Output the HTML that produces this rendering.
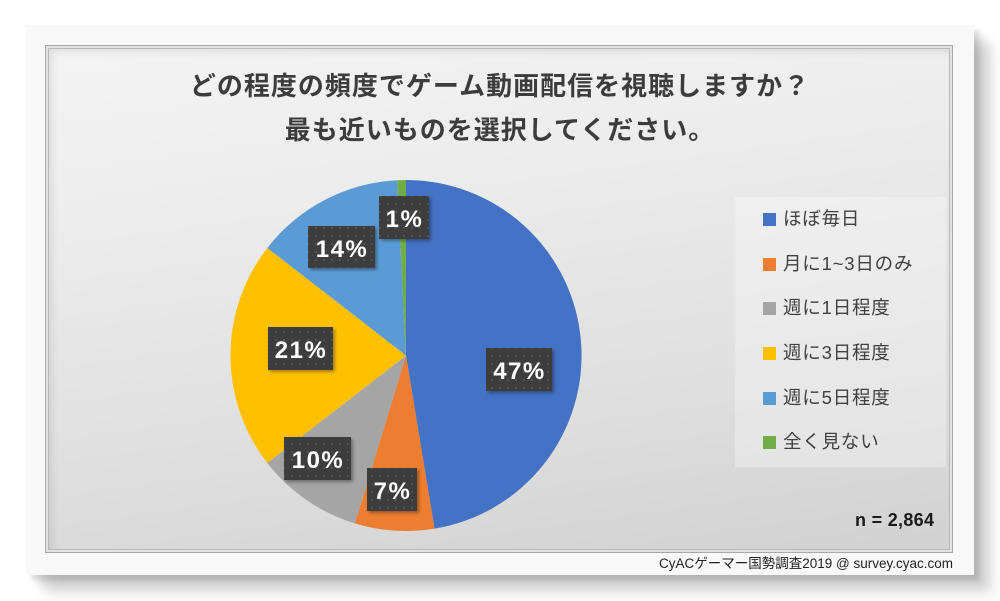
<!DOCTYPE html>
<html>
<head>
<meta charset="utf-8">
<style>
  html,body{margin:0;padding:0;background:#ffffff;}
  body{width:1000px;height:601px;position:relative;overflow:hidden;font-family:"Liberation Sans","Noto Sans CJK JP",sans-serif;}
  .outer{position:absolute;left:26px;top:25px;width:948px;height:550px;background:#f8f8f8;
    box-shadow:5px 5px 5px rgba(0,0,0,0.12),12px 12px 9px rgba(0,0,0,0.11),20px 20px 12px rgba(0,0,0,0.10);}
  .inner{position:absolute;left:45px;top:45px;width:906px;height:506px;border:1px solid #a9a9a9;
    background:linear-gradient(172deg,#f4f4f4 0%,#ececec 30%,#dedede 70%,#d1d1d1 100%);
    box-shadow:inset 0 0 0 2px #e2e2e2,inset 0 0 0 3px #b9b9b9,inset 5px 5px 9px rgba(0,0,0,0.10);}
  .title{position:absolute;left:0;width:1000px;text-align:center;font-weight:700;font-size:26px;letter-spacing:1px;
    color:#3c3c3c;line-height:30px;font-family:"Liberation Sans","Noto Sans CJK JP",sans-serif;white-space:nowrap;}
  .legend{position:absolute;left:735px;top:197px;width:211px;height:270px;background:rgba(255,255,255,0.30);}
  .li{position:absolute;left:763px;height:24px;line-height:24px;font-size:18.5px;color:#404040;letter-spacing:0.8px;white-space:nowrap;}
  .li i{position:absolute;left:0;top:5px;width:13px;height:13px;display:block;}
  .li span{position:absolute;left:20px;top:-1px;}
  .n{position:absolute;left:855px;top:510px;font-size:18px;font-weight:700;color:#1a1a1a;letter-spacing:0.3px;white-space:nowrap;}
  .foot{position:absolute;right:47px;top:555px;font-size:13.5px;color:#222;white-space:nowrap;line-height:18px;}
  svg{position:absolute;left:0;top:0;}
</style>
</head>
<body>
<div class="outer"></div>
<div class="inner"></div>

<div class="title" style="top:71px;">どの程度の頻度でゲーム動画配信を視聴しますか？</div>
<div class="title" style="top:115px;">最も近いものを選択してください。</div>

<svg width="1000" height="601" viewBox="0 0 1000 601">
  <defs>
    <pattern id="dots" width="8" height="8" patternUnits="userSpaceOnUse">
      <rect width="8" height="8" fill="#3d3d3d"/>
      <circle cx="4" cy="4" r="1" fill="#585858"/>
    </pattern>
    <filter id="sh" x="-20%" y="-20%" width="150%" height="150%">
      <feDropShadow dx="2" dy="2" stdDeviation="1.5" flood-color="#000" flood-opacity="0.35"/>
    </filter>
  </defs>
  <!-- pie: center (406,355.5) r 175.5 -->
  <path d="M406,355.5 L406,180 A175.5,175.5 0 0 1 434.54,528.67 Z" fill="#4472C4"/>
  <path d="M406,355.5 L434.54,528.67 A175.5,175.5 0 0 1 354.93,523.4 Z" fill="#ED7D31"/>
  <path d="M406,355.5 L354.93,523.4 A175.5,175.5 0 0 1 267.32,463.06 Z" fill="#A5A5A5"/>
  <path d="M406,355.5 L267.32,463.06 A175.5,175.5 0 0 1 267.32,247.94 Z" fill="#FFC000"/>
  <path d="M406,355.5 L267.32,247.94 A175.5,175.5 0 0 1 397.19,180.23 Z" fill="#5B9BD5"/>
  <path d="M406,355.5 L397.19,180.23 A175.5,175.5 0 0 1 406,180 Z" fill="#70AD47"/>

  <g font-family="Liberation Sans, sans-serif" font-weight="700" font-size="24" fill="#ffffff" text-anchor="middle" letter-spacing="1.5">
    <rect x="379" y="196" width="50" height="43" fill="url(#dots)" filter="url(#sh)"/>
    <text x="404.5" y="227">1%</text>
    <rect x="308" y="226" width="67" height="42" fill="url(#dots)" filter="url(#sh)"/>
    <text x="342" y="257">14%</text>
    <rect x="268" y="327" width="65" height="43" fill="url(#dots)" filter="url(#sh)"/>
    <text x="301" y="358">21%</text>
    <rect x="486" y="348" width="66" height="43" fill="url(#dots)" filter="url(#sh)"/>
    <text x="519.5" y="379">47%</text>
    <rect x="284" y="437" width="67" height="43" fill="url(#dots)" filter="url(#sh)"/>
    <text x="318" y="468">10%</text>
    <rect x="367" y="468" width="50" height="43" fill="url(#dots)" filter="url(#sh)"/>
    <text x="392.5" y="499">7%</text>
  </g>
</svg>

<div class="legend"></div>
<div class="li" style="top:208px;"><i style="background:#4472C4"></i><span>ほぼ毎日</span></div>
<div class="li" style="top:253px;"><i style="background:#ED7D31"></i><span>月に1~3日のみ</span></div>
<div class="li" style="top:297px;"><i style="background:#A5A5A5"></i><span>週に1日程度</span></div>
<div class="li" style="top:342px;"><i style="background:#FFC000"></i><span>週に3日程度</span></div>
<div class="li" style="top:387px;"><i style="background:#5B9BD5"></i><span>週に5日程度</span></div>
<div class="li" style="top:431px;"><i style="background:#70AD47"></i><span>全く見ない</span></div>

<div class="n">n = 2,864</div>
<div class="foot">CyACゲーマー国勢調査2019 @ survey.cyac.com</div>
</body>
</html>
